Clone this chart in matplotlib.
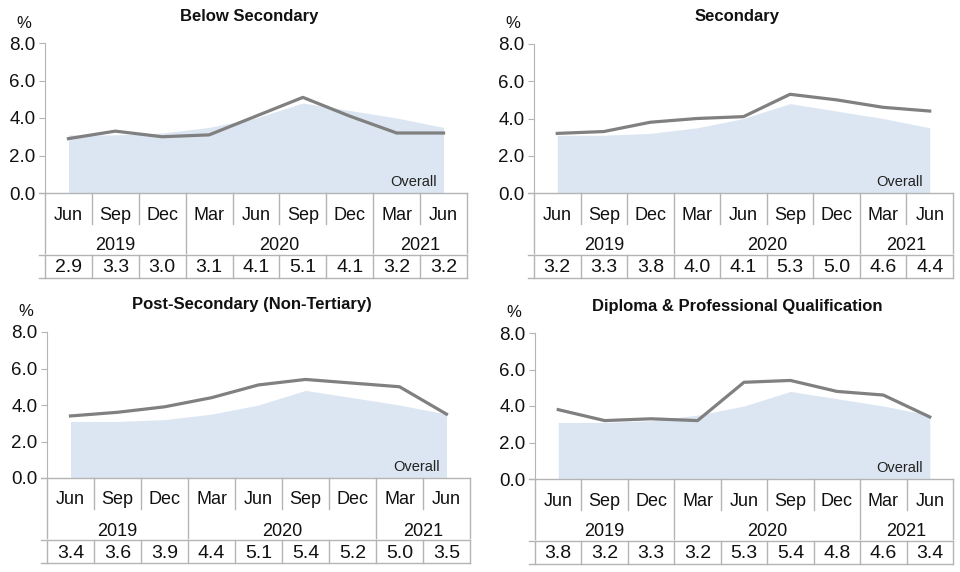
import numpy as np
import matplotlib
matplotlib.use('Agg')
import matplotlib.pyplot as plt

plt.rcParams['font.family'] = ['Liberation Sans', 'DejaVu Sans']

months = ['Jun', 'Sep', 'Dec', 'Mar', 'Jun', 'Sep', 'Dec', 'Mar', 'Jun']
years = ['2019', '2020', '2021']
year_spans = [(0, 2), (3, 6), (7, 8)]

overall = [3.1, 3.1, 3.2, 3.5, 4.0, 4.8, 4.4, 4.0, 3.5]
below_secondary = [2.9, 3.3, 3.0, 3.1, 4.1, 5.1, 4.1, 3.2, 3.2]
secondary = [3.2, 3.3, 3.8, 4.0, 4.1, 5.3, 5.0, 4.6, 4.4]
post_secondary = [3.4, 3.6, 3.9, 4.4, 5.1, 5.4, 5.2, 5.0, 3.5]
diploma = [3.8, 3.2, 3.3, 3.2, 5.3, 5.4, 4.8, 4.6, 3.4]

titles = ['Below Secondary', 'Secondary',
          'Post-Secondary (Non-Tertiary)', 'Diploma & Professional Qualification']
series = [below_secondary, secondary, post_secondary, diploma]

# panel boxes in pixels: left, right, top (8.0), bottom (0.0)
boxes = [(45, 467, 43, 193), (534, 953, 44, 193),
         (47, 470, 332, 478), (535, 953, 333, 479)]

W, H = 960, 572
TAB_H = 86
FILL = '#dce6f2'
LINE = '#808080'
GRID = '#b4b4b4'
TXT = '#111111'

fig = plt.figure(figsize=(W / 100, H / 100), dpi=100)


def draw_panel(box, title, values):
    x0, x1, yt, yb = box
    ax = fig.add_axes([x0 / W, 1 - yb / H, (x1 - x0) / W, (yb - yt) / H])
    x = np.arange(len(months))
    ax.fill_between(x, overall, 0, color=FILL, lw=0)
    ax.plot(x, values, color=LINE, lw=2.3, solid_joinstyle='round')
    ax.set_xlim(-0.5, len(months) - 0.5)
    ax.set_ylim(0, 8)
    ax.set_yticks(np.arange(0, 9, 2))
    ax.set_yticklabels(['%.1f' % v for v in np.arange(0, 9, 2)],
                       fontsize=13.5, color=TXT)
    ax.set_xticks([])
    for s in ['top', 'right', 'bottom']:
        ax.spines[s].set_visible(False)
    ax.spines['left'].set_color(GRID)
    ax.tick_params(axis='y', length=4, color=GRID, pad=3)
    ax.text(len(months) - 1.15, 0.2, 'Overall', ha='right', va='bottom',
            fontsize=10.5, color='#222222')
    ax.text(0.485, 1.0 + 27 / (yb - yt), title, transform=ax.transAxes,
            ha='center', va='center', fontsize=12, fontweight='bold', color=TXT)
    ax.text(-21 / (x1 - x0), 1.0 + 20 / (yb - yt), '%', transform=ax.transAxes,
            ha='center', va='center', fontsize=12, color=TXT)

    # table beneath the axis
    tb = fig.add_axes([x0 / W, 1 - (yb + TAB_H) / H, (x1 - x0) / W, TAB_H / H])
    tb.set_xlim(-0.5, len(months) - 0.5)
    tb.set_ylim(TAB_H, 0)
    tb.axis('off')
    n = len(months)
    bounds = np.arange(n + 1) - 0.5
    year_bounds = [year_spans[0][0] - 0.5] + [e + 0.5 for _, e in year_spans]
    kw = dict(color=GRID, lw=1, clip_on=False)
    tb.plot([-0.62, n - 0.5], [0, 0], **kw)
    for b in bounds:
        if b in year_bounds:
            tb.plot([b, b], [0, 60], **kw)
        else:
            tb.plot([b, b], [0, 31], **kw)
        tb.plot([b, b], [62, TAB_H - 1], **kw)
    tb.plot([-0.62, n - 0.5], [62, 62], **kw)
    tb.plot([-0.62, n - 0.5], [TAB_H - 1, TAB_H - 1], **kw)
    for i, m in enumerate(months):
        tb.text(i, 22, m, ha='center', va='center', fontsize=13, color=TXT)
        tb.text(i, 75, '%.1f' % values[i], ha='center', va='center',
                fontsize=14, color=TXT)
    for yr, (s, e) in zip(years, year_spans):
        tb.text((s + e) / 2, 53, yr, ha='center', va='center',
                fontsize=13, color=TXT)


for box, title, values in zip(boxes, titles, series):
    draw_panel(box, title, values)

fig.savefig('out.png', dpi=100, facecolor='white')
